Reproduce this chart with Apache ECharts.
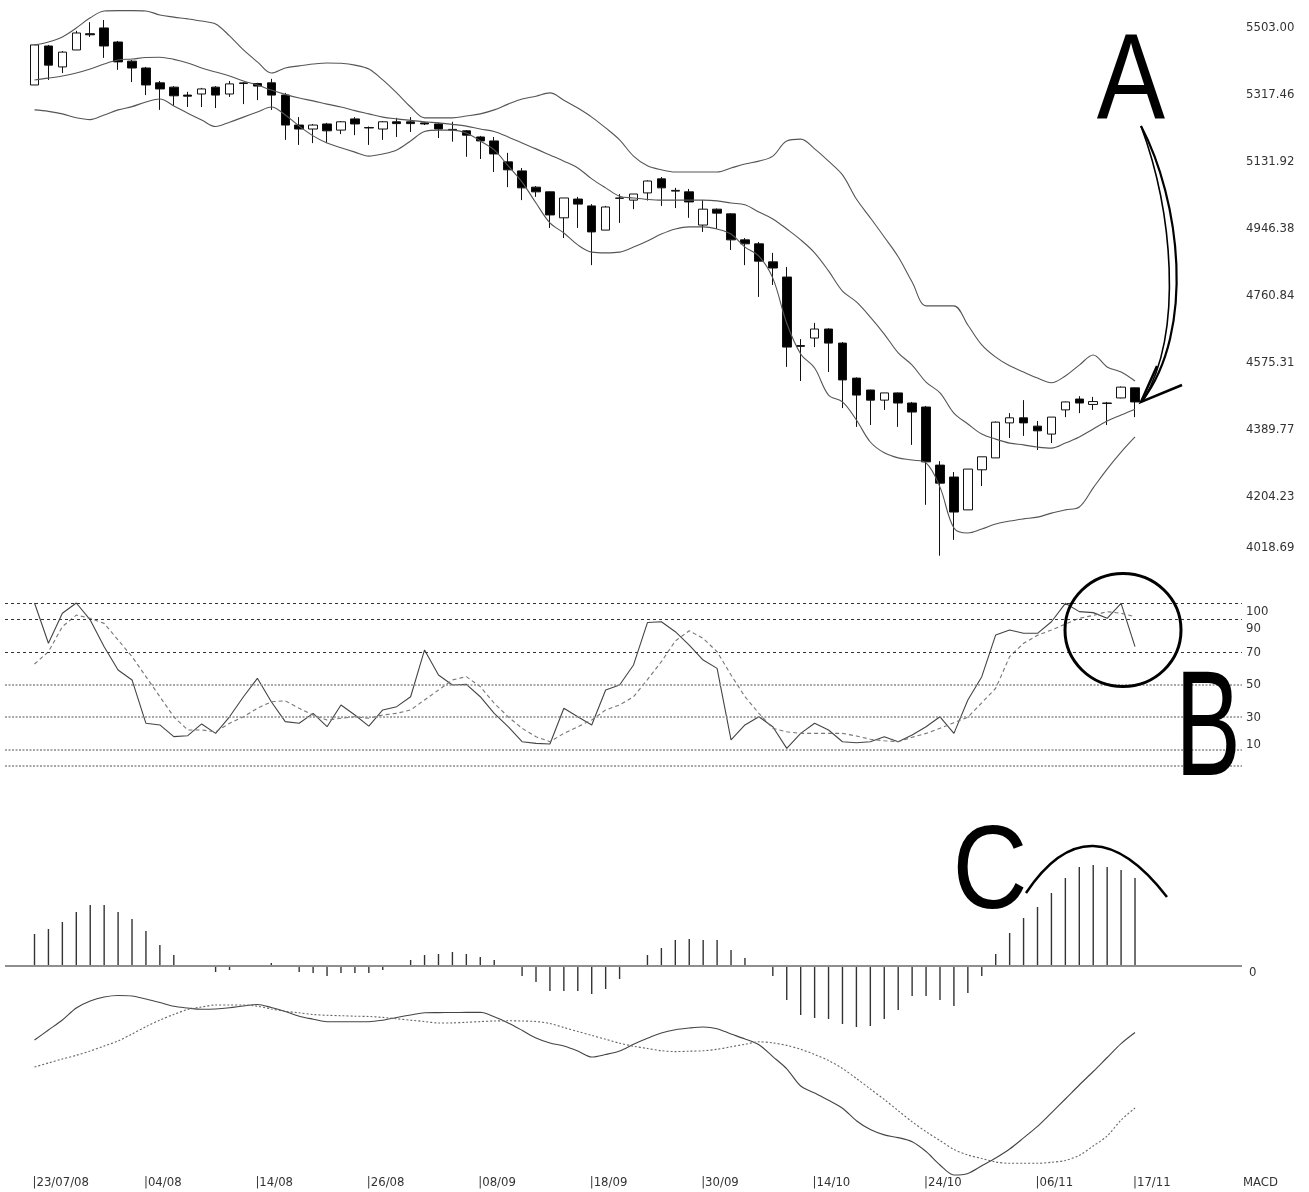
<!DOCTYPE html>
<html><head><meta charset="utf-8">
<script src="https://cdn.jsdelivr.net/npm/echarts/dist/echarts.min.js"></script>
<style>html,body{margin:0;padding:0;background:#fff}#c{width:1309px;height:1192px}</style>
</head><body><div id="c"></div>
<script>
// ---------------- data ----------------
const dateTickIndex = [0, 8, 16, 24, 32, 40, 48, 56, 64, 72, 79];
const dateTickLabels = ['23/07/08', '04/08', '14/08', '26/08', '08/09', '18/09', '30/09', '14/10', '24/10', '06/11', '17/11'];
const priceTickLabels = [5503.00, 5317.46, 5131.92, 4946.38, 4760.84, 4575.31, 4389.77, 4204.23, 4018.69];
const stochLevels = [100, 90, 70, 50, 30, 10, 0];
const stochTickLabels = [100, 90, 70, 50, 30, 10];

const priceOpen = [5323,5431,5373,5420,5465,5481,5442,5389,5370,5329, 5317,5295,5298,5317,5298,5327,5327,5329,5295,5212, 5201,5215,5198,5229,5205,5201,5221,5221,5218,5215, 5200,5196,5179,5168,5110,5085,5040,5027,4955,5007, 4988,4921,5009,5004,5024,5063,5031,5027,4935,4979, 4966,4894,4883,4833,4791,4601,4622,4647,4608,4511, 4478,4450,4470,4442,4431,4270,4237,4146,4257,4290, 4387,4401,4378,4356,4423,4453,4438,4442,4456,4484];
const priceClose = [5434,5378,5414,5467,5462,5431,5387,5370,5323,5312, 5293,5292,5312,5295,5326,5329,5320,5295,5212,5201, 5212,5196,5221,5215,5204,5221,5216,5216,5215,5201, 5198,5184,5168,5132,5088,5038,5027,4963,5010,4993, 4916,4985,5010,5021,5057,5038,5029,4999,4979,4968, 4894,4883,4835,4816,4597,4599,4647,4608,4506,4464, 4450,4470,4442,4417,4279,4220,4140,4259,4293,4389, 4401,4387,4365,4403,4445,4442,4446,4441,4486,4445];
const priceHigh = [5434,5434,5417,5473,5497,5503,5445,5392,5373,5334, 5320,5304,5315,5320,5334,5331,5329,5340,5301,5234, 5215,5218,5223,5234,5208,5223,5232,5234,5219,5218, 5221,5198,5182,5179,5135,5093,5043,5028,5010,5013, 4993,4988,5021,5021,5059,5068,5038,5035,5004,4981, 4968,4899,4888,4858,4819,4619,4664,4649,4611,4513, 4479,4470,4471,4445,4434,4281,4251,4259,4293,4391, 4414,4450,4392,4403,4446,4461,4459,4445,4488,4485];
const priceLow = [5323,5337,5356,5420,5456,5398,5365,5331,5295,5254, 5265,5262,5262,5259,5290,5270,5281,5254,5171,5157, 5162,5162,5187,5184,5157,5171,5179,5193,5212,5176, 5166,5124,5118,5082,5040,5004,5013,4927,4899,4927, 4824,4921,4941,4979,5003,4988,4982,4955,4916,4924, 4866,4824,4736,4769,4542,4503,4597,4528,4428,4376, 4381,4423,4376,4326,4160,4019,4063,4146,4212,4290, 4345,4351,4312,4331,4403,4414,4423,4381,4455,4403];

const bbUpper = [5434,5442,5456,5481,5509,5528,5529,5529,5528,5517, 5511,5506,5500,5492,5459,5420,5387,5356,5370,5376, 5381,5384,5383,5378,5367,5337,5301,5262,5232,5232, 5232,5237,5243,5254,5270,5284,5292,5301,5281,5259, 5234,5204,5171,5126,5099,5088,5082,5082,5082,5082, 5093,5104,5112,5126,5168,5173,5146,5112,5074,5007, 4955,4902,4847,4777,4711,4711,4711,4658,4603,4569, 4545,4528,4511,4498,4517,4547,4575,4542,4528,4503];
const bbMiddle = [5337,5342,5348,5356,5367,5381,5392,5395,5399,5400, 5394,5384,5370,5359,5348,5334,5323,5309,5297,5287, 5279,5270,5262,5252,5243,5234,5229,5225,5221,5218, 5214,5209,5201,5194,5179,5162,5146,5129,5112,5093, 5063,5038,5015,5010,5006,5004,5004,5004,5004,5002, 4996,4991,4971,4952,4924,4894,4858,4808,4752,4722, 4680,4633,4581,4547,4500,4470,4414,4384,4356,4342, 4331,4326,4320,4317,4331,4348,4370,4392,4409,4425];
const bbLower = [5254,5250,5243,5232,5227,5240,5254,5263,5276,5284, 5265,5245,5226,5208,5220,5234,5248,5262,5240,5209, 5182,5162,5149,5137,5126,5132,5143,5168,5194,5198, 5198,5190,5168,5143,5099,5054,4996,4941,4913,4880, 4860,4858,4860,4874,4891,4910,4924,4930,4930,4924, 4910,4874,4849,4788,4663,4578,4539,4464,4445,4395, 4334,4304,4290,4284,4276,4209,4096,4082,4093,4107, 4115,4121,4126,4137,4146,4154,4207,4259,4306,4348];

const stochK = [100,75.3,93.7,100,89.6,73.2,58.9,52.8,26.2,25.2, 18,18.6,25.8,20,30.2,42.5,53.8,39.4,27.2,26.2, 32.3,24.1,37.4,31.3,24.5,34.4,36.4,42.5,71.2,55.8, 49.7,50.1,42.5,32.3,24.1,14.9,13.9,13.5,35.4,30.2, 25.2,46.6,49.7,62,88,88.5,82.4,74.2,65,59.9, 16,25.2,30.2,24.1,10.8,20,26.2,22.1,14.9,14.3, 14.9,18,14.9,19,24.1,30.2,20,40.5,54.8,80.4, 83.4,81.4,81.4,88.5,99.8,94.7,94.1,90.6,99.8,73.2];
const stochD = [62.6,70.1,85.5,92.6,90.6,87.5,77.3,67.1,54.8,42.5, 30.2,22.1,22.1,21,26.2,30.2,35.4,39.4,40,35.4, 31.3,28.2,29.3,30.2,29.3,31.3,32.3,34.4,40.5,46.6, 52.8,54.8,48.7,38.5,30.2,23.1,18,14.9,20,24.1, 28.2,34.4,37.4,42.5,53,64,76.7,83,78.3,70.1, 55.8,42.5,32.3,23.1,21,20,20,20,20,18.4, 16.4,15.5,14.9,17.6,20,23.1,26.6,29.9,38.8,47.7, 67.1,75.3,80.2,83.4,87.1,90.6,92.4,94.7,93.7,91.6];

const macdHist = [32,37,44,54,61,61,54,47,35,21, 11,1,-1,-6,-4,0,1,3,0,-6, -7,-10,-7,-7,-7,-4,0,6,11,12, 14,12,9,6,0,-10,-16,-25,-25,-25, -28,-23,-13,-1,11,18,26,27,26,26, 16,8,0,-10,-34,-49,-52,-53,-58,-61, -60,-53,-44,-30,-30,-34,-40,-27,-10,12, 33,48,59,73,88,99,101,99,96,88];
const macdLine = [-74,-64,-54,-42,-35,-31,-29.5,-30,-33,-36.5, -40.3,-42,-43.3,-43,-41.8,-40,-38.5,-41.5,-45.5,-50.3, -53.2,-55.7,-55.7,-55.7,-55.7,-54.2,-51.5,-49,-46.8,-46.6, -46.5,-46.4,-46.3,-50.8,-57,-64.3,-72,-77,-80,-85, -91,-88.5,-85,-78.3,-72.3,-67,-63.7,-62,-61,-62.7, -68,-73,-78.7,-90.6,-102.8,-120,-127,-134.2,-142.3,-154.7, -163.6,-168.9,-171.6,-175.7,-185.5,-199,-209,-207.4,-199.8,-192, -183,-171.9,-160.4,-146.8,-133,-119,-105.5,-91.5,-77.6,-66.5];
const macdSignal = [-101,-97,-93,-89.3,-85,-80,-75,-68,-60.7,-54, -48.5,-43.5,-41,-39,-39,-39,-40.2,-43,-45.3,-46.8, -48.5,-49.3,-49.7,-50.2,-50.5,-51.4,-52.8,-54.2,-55.5,-57, -56.9,-56.3,-55.6,-55,-54.8,-55,-55.5,-57.5,-61.5,-65.5, -69.4,-73.3,-77.2,-80.2,-82.5,-84.7,-85.6,-85.2,-84.8,-83.3, -80.8,-78.3,-75.8,-76.9,-79.4,-83.3,-88.5,-94.5,-102.5,-112.5, -123,-133.5,-144.7,-155.8,-165.7,-174.6,-183.4,-189,-192.5,-196, -197.3,-197.3,-197.3,-196.3,-194.5,-189.4,-180,-170,-154,-142];

// ---------------- layout ----------------
const X_MIN = -2.118, X_MAX = 86.68;
const PRICE_MIN = 4000, PRICE_MAX = 5530, PRICE_PX = 0.361;
const STOCH_MIN = -2, STOCH_MAX = 105, STOCH_PX = 1.63;
const MACD_MIN = -210, MACD_MAX = 125, MACD_PX = 1;
const priceLabelShiftPx = [7.5, 7.5, 7.5, 7.5, 7.5, 7.5, 7.5, 7.5, -8];
const stochLabelShiftPx = [8.7, 9, 0.8, 0.5, 0.3, -4.7];
const FONT = '"DejaVu Sans Condensed", "Liberation Sans Narrow", sans-serif';
const BIG = '"Liberation Sans", Arial, sans-serif';
const labelStyle = {color: '#333', fontSize: 13, fontFamily: FONT};

const idx = priceOpen.map((_, i) => i);
const candleData = idx.map(i => [i, priceOpen[i], priceClose[i], priceLow[i], priceHigh[i]]);
const pairs = arr => arr.map((v, i) => [i, v]);

const priceLabelPos = priceTickLabels.map((v, i) => v - priceLabelShiftPx[i] / PRICE_PX);
const stochLabelPos = stochTickLabels.map((v, i) => v - stochLabelShiftPx[i] / STOCH_PX);
const nearest = (list, v) => { let b = 0; list.forEach((p, i) => { if (Math.abs(p - v) < Math.abs(list[b] - v)) b = i; }); return b; };

const gridLeft = 5, gridRight = 67;
const priceTop = 20 - (PRICE_MAX - 5503) * PRICE_PX;
const stochTop = 766 - STOCH_MAX * STOCH_PX;
const macdTop = 966 - MACD_MAX * MACD_PX;

const hiddenX = gi => ({type: 'value', gridIndex: gi, min: X_MIN, max: X_MAX, show: false});

const stochLineStyle = lv => lv >= 70
  ? {color: '#333', width: 1, type: [3, 3]}
  : {color: '#8c8c8c', width: 1.6, type: [2, 1.5]};

const option = {
  animation: false,
  backgroundColor: '#fff',
  grid: [
    {left: gridLeft, right: gridRight, top: priceTop, height: (PRICE_MAX - PRICE_MIN) * PRICE_PX},
    {left: gridLeft, right: gridRight, top: stochTop, height: (STOCH_MAX - STOCH_MIN) * STOCH_PX},
    {left: gridLeft, right: gridRight, top: macdTop, height: (MACD_MAX - MACD_MIN) * MACD_PX}
  ],
  xAxis: [
    hiddenX(0), hiddenX(1),
    {type: 'value', gridIndex: 2, min: X_MIN, max: X_MAX,
     axisLine: {show: false}, axisTick: {show: false}, splitLine: {show: false},
     axisLabel: Object.assign({}, labelStyle, {
       customValues: dateTickIndex, showMinLabel: true, showMaxLabel: true,
       align: 'left', verticalAlign: 'middle', margin: 7, padding: [0, 0, 0, -2],
       formatter: v => '|' + dateTickLabels[nearest(dateTickIndex, v)]
     })}
  ],
  yAxis: [
    {type: 'value', gridIndex: 0, position: 'right', min: PRICE_MIN, max: PRICE_MAX,
     axisLine: {show: false}, axisTick: {show: false}, splitLine: {show: false},
     axisLabel: Object.assign({}, labelStyle, {customValues: priceLabelPos, margin: 4, align: 'left',
       formatter: v => priceTickLabels[nearest(priceLabelPos, v)].toFixed(2)})},
    {type: 'value', gridIndex: 1, position: 'right', min: STOCH_MIN, max: STOCH_MAX,
     axisLine: {show: false}, axisTick: {show: false}, splitLine: {show: false},
     axisLabel: Object.assign({}, labelStyle, {customValues: stochLabelPos, margin: 4, align: 'left',
       formatter: v => String(stochTickLabels[nearest(stochLabelPos, v)])})},
    {type: 'value', gridIndex: 2, position: 'right', min: MACD_MIN, max: MACD_MAX,
     axisLine: {show: false}, axisTick: {show: false}, splitLine: {show: false},
     axisLabel: Object.assign({}, labelStyle, {customValues: [-7], margin: 7, align: 'left',
       formatter: () => '0'})}
  ],
  series: [
    {type: 'candlestick', xAxisIndex: 0, yAxisIndex: 0, data: candleData,
     encode: {x: 0, y: [1, 2, 3, 4]}, barWidth: 9,
     itemStyle: {color: '#fff', color0: '#000', borderColor: '#111', borderColor0: '#111', borderColorDoji: '#111', borderWidth: 1}},
    {type: 'line', xAxisIndex: 0, yAxisIndex: 0, data: pairs(bbUpper), symbol: 'none', smooth: 0.35,
     lineStyle: {color: '#555', width: 1.1}},
    {type: 'line', xAxisIndex: 0, yAxisIndex: 0, data: pairs(bbMiddle), symbol: 'none', smooth: 0.35,
     lineStyle: {color: '#555', width: 1.1}},
    {type: 'line', xAxisIndex: 0, yAxisIndex: 0, data: pairs(bbLower), symbol: 'none', smooth: 0.35,
     lineStyle: {color: '#555', width: 1.1}},
    {type: 'line', xAxisIndex: 1, yAxisIndex: 1, data: pairs(stochK), symbol: 'none',
     lineStyle: {color: '#444', width: 1.1},
     markLine: {silent: true, symbol: 'none', label: {show: false},
       data: stochLevels.map(lv => ({yAxis: lv, lineStyle: stochLineStyle(lv)}))}},
    {type: 'line', xAxisIndex: 1, yAxisIndex: 1, data: pairs(stochD), symbol: 'none',
     lineStyle: {color: '#777', width: 1.1, type: [4, 3]}},
    {type: 'bar', xAxisIndex: 2, yAxisIndex: 2, data: pairs(macdHist), barWidth: 1.4,
     itemStyle: {color: '#333'},
     markLine: {silent: true, symbol: 'none', label: {show: false},
       data: [{yAxis: 0}], lineStyle: {color: '#8f8f8f', width: 2, type: 'solid'}}},
    {type: 'line', xAxisIndex: 2, yAxisIndex: 2, data: pairs(macdLine), symbol: 'none', smooth: 0.3,
     lineStyle: {color: '#444', width: 1.1}},
    {type: 'line', xAxisIndex: 2, yAxisIndex: 2, data: pairs(macdSignal), symbol: 'none', smooth: 0.3,
     lineStyle: {color: '#666', width: 1.1, type: [2, 2]}}
  ],
  graphic: [
    {type: 'text', x: 1131, y: 85, scaleX: 0.84, z: 100,
     style: {text: 'A', font: '122px ' + BIG, fill: '#000', textAlign: 'center', textVerticalAlign: 'middle'}},
    {type: 'text', x: 1208, y: 733, scaleX: 0.65, z: 100,
     style: {text: 'B', font: '151px ' + BIG, fill: '#000', textAlign: 'center', textVerticalAlign: 'middle'}},
    {type: 'text', x: 990, y: 875, scaleX: 0.88, z: 100,
     style: {text: 'C', font: '118px ' + BIG, fill: '#000', textAlign: 'center', textVerticalAlign: 'middle'}},
    {type: 'bezierCurve', z: 100, shape: {x1: 1141, y1: 126, cpx1: 1180, cpy1: 200, cpx2: 1196, cpy2: 330, x2: 1142, y2: 401},
     style: {stroke: '#000', lineWidth: 2.2, fill: null}},
    {type: 'bezierCurve', z: 100, shape: {x1: 1141, y1: 126, cpx1: 1172, cpy1: 210, cpx2: 1184, cpy2: 330, x2: 1144, y2: 399},
     style: {stroke: '#000', lineWidth: 1.6, fill: null}},
    {type: 'polyline', z: 100, shape: {points: [[1182, 385], [1141, 402], [1157, 366]]},
     style: {stroke: '#000', lineWidth: 2.5, fill: null}},
    {type: 'ellipse', z: 100, shape: {cx: 1123, cy: 630, rx: 58, ry: 56.5},
     style: {stroke: '#000', lineWidth: 3, fill: null}},
    {type: 'bezierCurve', z: 100, shape: {x1: 1026, y1: 893, cpx1: 1090, cpy1: 797, x2: 1167, y2: 897},
     style: {stroke: '#000', lineWidth: 2.5, fill: null}},
    {type: 'text', x: 1243, y: 1183, z: 100,
     style: {text: 'MACD', fill: '#333', font: '13px ' + FONT, textAlign: 'left', textVerticalAlign: 'middle'}}
  ]
};

const chart = echarts.init(document.getElementById('c'), null, {renderer: 'canvas'});
chart.setOption(option);
</script>
</body></html>
